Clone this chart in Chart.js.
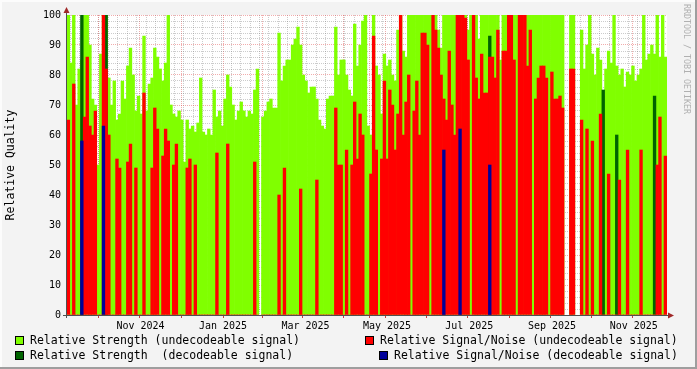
<!DOCTYPE html>
<html><head><meta charset="utf-8">
<script src="https://cdn.jsdelivr.net/npm/chart.js@4/dist/chart.umd.min.js"></script>
<style>
html,body{margin:0;padding:0;background:#f3f3f3;}
#wrap{position:relative;width:697px;height:369px;overflow:hidden;}
canvas{position:absolute;left:0;top:0;}
.lg{position:absolute;font-family:'DejaVu Sans Mono',monospace;font-size:11.5px;line-height:12px;color:#000;white-space:pre;}
.sw{position:absolute;width:7px;height:7px;border:1px solid #000;}
#wm{position:absolute;left:682px;top:4px;font-family:'DejaVu Sans Mono',monospace;font-size:8.3px;color:#b0b0b0;writing-mode:vertical-rl;white-space:pre;line-height:10px;}
</style></head>
<body><div id="wrap"><canvas id="c" width="697" height="369"></canvas>
<div class="sw" style="left:15px;top:336px;background:#80ff00"></div>
<div class="lg" style="left:30px;top:334px">Relative Strength (undecodeable signal)</div>
<div class="sw" style="left:15px;top:351px;background:#006400"></div>
<div class="lg" style="left:30px;top:349px">Relative Strength  (decodeable signal)</div>
<div class="sw" style="left:365px;top:336px;background:#ff0000"></div>
<div class="lg" style="left:380px;top:334px">Relative Signal/Noise (undecodeable signal)</div>
<div class="sw" style="left:379px;top:351px;background:#000099"></div>
<div class="lg" style="left:394px;top:349px">Relative Signal/Noise (decodeable signal)</div>
<div id="wm">RRDTOOL / TOBI OETIKER</div>
</div>
<script>
// 2-day bins starting 23 Sep 2024
const strengthUndec = [
100,84,100,70,82,85,100,100,90,72,
70,50,87,100,100,79,70,78,65,67,
78,72,83,89,80,68,73,67,93,68,
77,79,89,86,82,78,84,100,70,67,
66,68,65,51,65,62,63,61,64,79,
61,60,62,60,75,66,68,63,72,80,
76,70,65,68,71,68,66,68,67,75,
82,null,66,68,71,72,69,69,94,78,
83,85,85,90,92,96,90,80,78,74,
76,76,72,65,63,62,72,73,73,96,
80,85,85,80,75,73,97,83,90,98,
100,63,60,100,83,80,67,87,83,85,
80,78,95,100,88,86,100,100,100,100,
100,100,100,100,100,100,100,95,89,100,
100,100,100,100,100,100,100,100,95,100,
100,100,92,100,100,100,100,100,100,100,
85,100,100,100,100,100,100,100,100,100,
100,100,100,100,100,100,100,100,100,100,
100,100,100,100,null,null,100,100,null,null,
95,82,90,100,87,80,89,85,73,82,
88,84,100,83,80,82,76,81,80,83,
78,80,82,100,85,87,90,87,100,86,
100,86];
const snrUndec = [
65,0,77,0,0,0,66,86,63,60,
68,0,0,100,82,60,0,0,52,49,
0,0,51,57,0,49,0,0,74,0,
0,49,69,62,0,53,62,58,0,50,
57,0,0,0,49,52,0,50,0,0,
0,0,0,0,0,54,0,0,0,57,
0,0,0,0,0,0,0,0,0,51,
0,null,0,0,0,0,0,0,40,0,
49,0,0,0,0,0,42,0,0,0,
0,0,45,0,0,0,0,0,0,69,
50,50,0,55,0,50,71,52,67,60,
0,0,47,93,55,0,52,78,52,75,
70,55,67,100,60,71,80,0,68,78,
60,94,94,90,0,100,95,89,80,72,
65,88,70,60,100,100,100,99,85,0,
100,79,72,87,74,74,86,86,79,95,
0,88,88,100,100,85,0,100,100,100,
83,95,0,72,79,83,83,79,0,81,
72,72,73,69,null,null,82,82,null,null,
65,0,62,0,58,0,0,67,0,0,
47,0,0,0,45,0,0,55,0,0,
0,0,55,0,0,0,0,0,50,66,
0,53];
const strengthDecBins = [5,14,156,198,203,217];
const strengthDecVals = [100,100,93,75,60,73];
const snrDecBins = [5,13,139,145,156];
const snrDecVals = [58,63,55,62,50];

const monthStartDays = [8,39,69,100,131,159,190,220,251,281,312,343,373,404,434];
const labelDays = [54.4,115.5,176.6,236.9,297.8,359.1,419.6];
const labelNames = ['Nov 2024','Jan 2025','Mar 2025','May 2025','Jul 2025','Sep 2025','Nov 2025'];

const PX_PER_DAY = 1.3507;
const X_MAX = 600 / PX_PER_DAY;
const binX = i => 2 * i + 1;
const full = arr => arr.map((v, i) => ({x: binX(i), y: v}));
const sparse = (bins, vals) => bins.map((b, k) => ({x: binX(b), y: vals[k]}));

const xTicks = [];
for (let d = 6; d < X_MAX; d += 7) xTicks.push({v: d, kind: 'minor', label: ''});
monthStartDays.forEach(d => xTicks.push({v: d, kind: 'major', label: ''}));
labelDays.forEach((d, k) => xTicks.push({v: d, kind: 'label', label: labelNames[k]}));
const yTicks = [];
for (let v = 0; v <= 100; v += 2) yTicks.push(v);

const MIN = 'rgba(110,110,110,0.35)';
const MAJ = 'rgba(225,70,70,0.45)';
const FONT = 'DejaVu Sans Mono';

const frame = {
  id: 'frame',
  beforeDraw(chart) {
    const c = chart.ctx, a = chart.chartArea;
    c.save();
    c.fillStyle = '#f3f3f3'; c.fillRect(0, 0, 697, 369);
    c.fillStyle = '#ffffff'; c.fillRect(a.left, a.top, a.right - a.left, a.bottom - a.top);
    c.restore();
  },
  afterDraw(chart) {
    const c = chart.ctx, a = chart.chartArea;
    c.save();
    c.strokeStyle = '#505050'; c.lineWidth = 1;
    c.beginPath();
    c.moveTo(a.left - 0.5, a.bottom + 3); c.lineTo(a.left - 0.5, a.top - 3);
    c.moveTo(a.left - 4, a.bottom + 0.5); c.lineTo(a.right + 2, a.bottom + 0.5);
    c.stroke();
    c.fillStyle = '#a02828';
    c.beginPath(); c.moveTo(a.left - 0.5, a.top - 8); c.lineTo(a.left - 3.5, a.top - 2); c.lineTo(a.left + 2.5, a.top - 2); c.closePath(); c.fill();
    c.beginPath(); c.moveTo(a.right + 7, a.bottom + 0.5); c.lineTo(a.right + 1, a.bottom - 2.5); c.lineTo(a.right + 1, a.bottom + 3.5); c.closePath(); c.fill();
    c.fillStyle = '#fcfcfc'; c.fillRect(0, 0, 697, 2); c.fillRect(0, 0, 2, 369);
    c.fillStyle = '#9e9e9e'; c.fillRect(0, 367, 697, 2); c.fillRect(695, 0, 2, 369);
    c.restore();
  }
};

new Chart(document.getElementById('c'), {
  type: 'bar',
  data: {
    datasets: [
      {label: 'Relative Strength (undecodeable signal)', data: full(strengthUndec), backgroundColor: '#80ff00', order: 4},
      {label: 'Relative Strength  (decodeable signal)', data: sparse(strengthDecBins, strengthDecVals), backgroundColor: '#006400', order: 3},
      {label: 'Relative Signal/Noise (undecodeable signal)', data: full(snrUndec), backgroundColor: '#ff0000', order: 2},
      {label: 'Relative Signal/Noise (decodeable signal)', data: sparse(snrDecBins, snrDecVals), backgroundColor: '#000099', order: 1}
    ]
  },
  options: {
    responsive: false, animation: false, devicePixelRatio: 1,
    layout: {padding: {top: 15, right: 30, left: 0, bottom: 0}},
    plugins: {legend: {display: false}, tooltip: {enabled: false}},
    datasets: {bar: {grouped: false, barPercentage: 1, categoryPercentage: 1, borderWidth: 0}},
    scales: {
      x: {
        type: 'linear', min: 0, max: X_MAX, offset: false, z: 1,
        afterBuildTicks: s => { s.ticks = xTicks.map(t => ({value: t.v})); },
        afterFit: s => { s.height = 54; },
        ticks: {autoSkip: false, maxRotation: 0, minRotation: 0, padding: 2, color: '#000',
          font: {family: FONT, size: 10}, callback: (v, i) => xTicks[i] ? xTicks[i].label : ''},
        grid: {
          lineWidth: 1, tickLength: 3, tickBorderDash: [],
          color: c => { const t = xTicks[c.index]; return !t || t.kind === 'label' ? 'rgba(0,0,0,0)' : (t.kind === 'major' ? MAJ : MIN); },
          tickColor: c => { const t = xTicks[c.index]; return t && t.kind === 'major' ? '#c04040' : 'rgba(0,0,0,0)'; }
        },
        border: {display: false, dash: [1, 1]}
      },
      y: {
        min: 0, max: 100, z: 1,
        afterBuildTicks: s => { s.ticks = yTicks.map(v => ({value: v})); },
        afterFit: s => { s.width = 67; },
        ticks: {autoSkip: false, padding: 6, color: '#000', font: {family: FONT, size: 10},
          callback: v => (v % 10 === 0 ? String(v) : '')},
        grid: {lineWidth: 1, drawTicks: false, color: c => (c.tick && c.tick.value % 10 === 0 ? MAJ : MIN)},
        border: {display: false, dash: [1, 1]},
        title: {display: true, text: 'Relative Quality', color: '#000', font: {family: FONT, size: 11.5}, padding: {top: 4, bottom: 0}}
      }
    }
  },
  plugins: [frame]
});
</script>
</body></html>
